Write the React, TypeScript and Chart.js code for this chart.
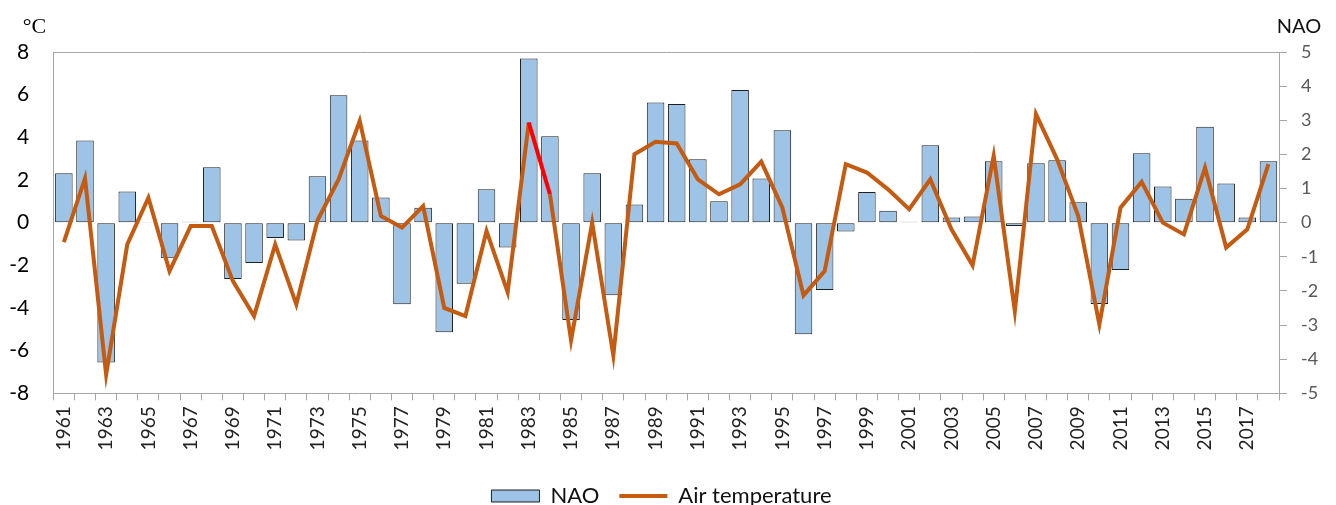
import React, { useEffect, useRef } from 'react';
import { Chart, registerables } from 'chart.js';

Chart.register(...registerables);

const years = [
  '1961', '1962', '1963', '1964', '1965', '1966', '1967', '1968', '1969', '1970',
  '1971', '1972', '1973', '1974', '1975', '1976', '1977', '1978', '1979', '1980',
  '1981', '1982', '1983', '1984', '1985', '1986', '1987', '1988', '1989', '1990',
  '1991', '1992', '1993', '1994', '1995', '1996', '1997', '1998', '1999', '2000',
  '2001', '2002', '2003', '2004', '2005', '2006', '2007', '2008', '2009', '2010',
  '2011', '2012', '2013', '2014', '2015', '2016', '2017', '2018',
];

const shownYearLabels = [
  '1961', '1963', '1965', '1967', '1969', '1971', '1973', '1975', '1977', '1979',
  '1981', '1983', '1985', '1987', '1989', '1991', '1993', '1995', '1997', '1999',
  '2001', '2003', '2005', '2007', '2009', '2011', '2013', '2015', '2017',
];

const naoValues = [
  1.45, 2.41, -4.1, 0.91, 0.02, -1.04, 0.03, 1.62, -1.65, -1.18,
  -0.45, -0.52, 1.36, 3.73, 2.41, 0.74, -2.39, 0.44, -3.21, -1.79,
  0.98, -0.73, 4.81, 2.53, -2.85, 1.45, -2.13, 0.53, 3.52, 3.48,
  1.86, 0.63, 3.89, 1.29, 2.71, -3.27, -1.97, -0.26, 0.9, 0.35,
  0.03, 2.27, 0.15, 0.18, 1.8, -0.1, 1.74, 1.83, 0.6, -2.38,
  -1.39, 2.03, 1.06, 0.7, 2.81, 1.15, 0.15, 1.8,
];

const airTemperature = [
  -0.91, 2.08, -7.12, -1.02, 1.17, -2.27, -0.16, -0.16, -2.74, -4.38,
  -1.02, -3.83, 0.1, 2.03, 4.77, 0.31, -0.23, 0.78, -4.0, -4.38,
  -0.39, -3.26, 4.69, 1.33, -5.51, 0.0, -6.23, 3.21, 3.79, 3.71,
  2.03, 1.33, 1.8, 2.86, 0.7, -3.41, -2.27, 2.74, 2.35, 1.56,
  0.63, 2.03, -0.31, -2.0, 3.13, -4.15, 5.09, 2.97, 0.31, -4.77,
  0.7, 1.91, 0.0, -0.55, 2.58, -1.17, -0.31, 2.74,
];

const highlightedSegmentYear = '1983';

const AXIS_GRAY = '#a6a6a6';

const axisTitles = {
  id: 'axisTitles',
  afterDraw(chart: any) {
    const ctx = chart.ctx;
    ctx.save();
    ctx.fillStyle = '#000';
    ctx.textBaseline = 'alphabetic';
    ctx.textAlign = 'center';
    ctx.font = '22px "Liberation Serif"';
    ctx.fillText('°C', 34.5, 33);
    ctx.font = '20px Lato';
    ctx.fillStyle = '#111';
    ctx.fillText('NAO', 1299, 33);
    ctx.restore();
  },
};

export default function App() {
  const canvasRef = useRef<HTMLCanvasElement | null>(null);

  useEffect(() => {
    let chart: Chart | null = null;
    let cancelled = false;
    const build = () => {
      if (cancelled || !canvasRef.current) return;
      const redIndex = years.indexOf(highlightedSegmentYear);
      chart = new Chart(canvasRef.current, {
        type: 'bar',
        data: {
          labels: years,
          datasets: [
            {
              type: 'bar',
              label: 'NAO',
              data: naoValues,
              yAxisID: 'y1',
              backgroundColor: '#9dc3e6',
              borderColor: '#1f1f1f',
              borderWidth: 1,
              borderSkipped: false,
              barPercentage: 0.83,
              categoryPercentage: 1,
              pointStyle: 'rect',
              order: 1,
            } as any,
            {
              type: 'line',
              label: 'Air temperature',
              data: airTemperature,
              yAxisID: 'y',
              borderColor: '#c55a11',
              backgroundColor: '#c55a11',
              borderWidth: 4,
              pointRadius: 0,
              pointHoverRadius: 0,
              tension: 0,
              pointStyle: 'line',
              order: 0,
              segment: {
                borderColor: (ctx: any) => (ctx.p0DataIndex === redIndex ? '#ff0000' : undefined),
              },
            } as any,
          ],
        },
        options: {
          animation: false,
          responsive: true,
          maintainAspectRatio: false,
          layout: { padding: { top: 52, left: 0, right: 13, bottom: -12 } },
          plugins: {
            tooltip: { enabled: false },
            legend: {
              position: 'bottom',
              labels: {
                usePointStyle: true,
                pointStyleWidth: 48,
                boxHeight: 12,
                padding: 20,
                color: '#111',
                font: { family: 'Lato', size: 22 },
                sort: (a: any, b: any) => a.datasetIndex - b.datasetIndex,
              },
            },
          },
          scales: {
            x: {
              offset: true,
              border: { display: true, color: AXIS_GRAY, width: 1 },
              grid: {
                offset: true,
                drawOnChartArea: false,
                drawTicks: true,
                tickLength: 7,
                color: AXIS_GRAY,
              },
              ticks: {
                autoSkip: false,
                minRotation: 90,
                maxRotation: 90,
                padding: 6,
                color: '#222',
                font: { family: 'Lato', size: 19 },
                callback: (_v: any, i: number) => (shownYearLabels.includes(years[i]) ? years[i] : ''),
              },
              afterFit: (scale: any) => {
                scale.height = 71.7;
              },
            },
            y: {
              position: 'left',
              min: -8,
              max: 8,
              border: { display: true, color: AXIS_GRAY, width: 1 },
              grid: {
                drawOnChartArea: true,
                drawTicks: false,
                color: (ctx: any) => (ctx.tick && ctx.tick.value === 8 ? AXIS_GRAY : 'rgba(0,0,0,0)'),
              },
              ticks: {
                stepSize: 2,
                padding: 24,
                color: '#000',
                font: { family: 'Lato', size: 21 },
              },
              afterFit: (scale: any) => {
                scale.width = 53.3;
              },
            },
            y1: {
              position: 'right',
              min: -5,
              max: 5,
              border: { display: true, color: AXIS_GRAY, width: 1 },
              grid: {
                drawOnChartArea: false,
                drawTicks: true,
                tickLength: 8,
                color: AXIS_GRAY,
              },
              ticks: {
                stepSize: 1,
                padding: 14,
                color: '#595959',
                font: { family: 'Lato', size: 18 },
              },
              afterFit: (scale: any) => {
                scale.width = 44;
              },
            },
          },
        } as any,
        plugins: [axisTitles],
      });
    };
    const fontsReady = (document as any).fonts
      ? Promise.all([
          (document as any).fonts.load('20px Lato'),
          (document as any).fonts.load('22px "Liberation Serif"'),
        ]).catch(() => null)
      : Promise.resolve(null);
    fontsReady.then(build);
    return () => {
      cancelled = true;
      if (chart) chart.destroy();
    };
  }, []);

  return (
    <div style={{ position: 'absolute', left: 0, top: 0, width: 1336, height: 505 }}>
      <canvas ref={canvasRef} />
    </div>
  );
}
